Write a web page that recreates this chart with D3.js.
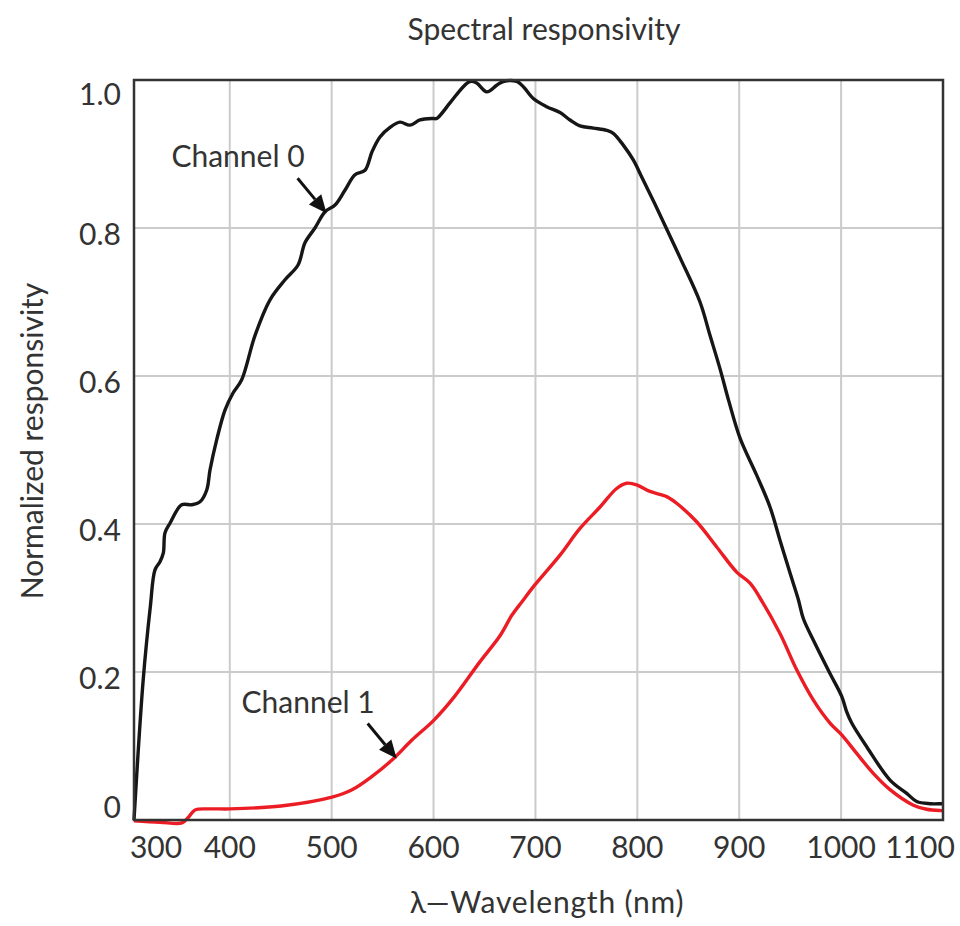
<!DOCTYPE html>
<html>
<head>
<meta charset="utf-8">
<script src="https://cdn.jsdelivr.net/npm/d3@7"></script>
<style>
  html, body { margin: 0; padding: 0; background: #fff; }
  svg { display: block; }
  text { font-family: Lato, "Open Sans", sans-serif; fill: #333; }
</style>
</head>
<body>
<svg id="chart" width="960" height="926"></svg>
<script>
// ---- Data ----
const title = "Spectral responsivity";
const xLabel = "λ—Wavelength (nm)";
const yLabel = "Normalized responsivity";

const xTicks = [300, 400, 500, 600, 700, 800, 900, 1000, 1100];
const xGrid = [400, 500, 600, 700, 800, 900, 1000];
const yTicks = [0, 0.2, 0.4, 0.6, 0.8, 1.0];
const yTickLabels = ["0", "0.2", "0.4", "0.6", "0.8", "1.0"];

// Channel 0 (black): [wavelength nm, responsivity]
const channel0 = [
  [306, 0], [315, 0.189], [322, 0.288], [326.6, 0.338], [331.5, 0.349], [334.8, 0.361],
  [336.4, 0.388], [341.3, 0.401], [352.8, 0.426], [362.6, 0.426], [370.8, 0.430],
  [377.4, 0.446], [380.6, 0.473], [387.2, 0.514], [395.3, 0.554], [403.2, 0.577],
  [411.7, 0.595], [424.8, 0.655], [439.5, 0.703], [454.2, 0.730], [467, 0.750],
  [473.8, 0.780], [483.6, 0.800], [493.5, 0.822], [503.3, 0.831], [513, 0.851],
  [522.9, 0.872], [532.7, 0.878], [539.6, 0.903], [547.4, 0.923], [557.3, 0.936],
  [567, 0.943], [576.9, 0.939], [586.7, 0.946], [599.8, 0.948], [603.1, 0.948],
  [616.1, 0.969], [629.2, 0.991], [635.8, 0.998], [642.3, 0.996], [652.2, 0.984],
  [662, 0.993], [668.5, 0.998], [681.6, 0.998], [688.1, 0.991], [697.9, 0.975],
  [711, 0.964], [724.1, 0.956], [733.9, 0.946], [743.7, 0.938], [756.8, 0.935],
  [769.9, 0.932], [776.4, 0.928], [786.2, 0.912], [796, 0.892], [804.3, 0.869],
  [822.2, 0.818], [841.9, 0.760], [861.5, 0.700], [871.3, 0.655], [881.1, 0.610],
  [890, 0.565], [900.8, 0.516], [917.1, 0.466], [930.2, 0.423], [940, 0.378], [949.8, 0.334],
  [958, 0.298], [963, 0.272], [972.8, 0.243], [989.1, 0.198], [1000.6, 0.167],
  [1005.5, 0.146], [1010.4, 0.131], [1025.1, 0.099], [1048, 0.054], [1064.4, 0.036],
  [1074.2, 0.025], [1087.2, 0.022], [1098.7, 0.022], [1100, 0.022]
];

// Channel 1 (red): [wavelength nm, responsivity]
const channel1 = [
  [306, -0.001], [331.5, -0.003], [353.1, -0.004], [359, 0.003], [365.9, 0.0135],
  [380.6, 0.015], [400.2, 0.015], [450.3, 0.019], [500.3, 0.031], [520, 0.041],
  [539.6, 0.059], [559.2, 0.081], [578.8, 0.108], [600.4, 0.135], [620.1, 0.166],
  [645.6, 0.214], [665.2, 0.249], [677, 0.277], [686.8, 0.295], [699.6, 0.318],
  [724.1, 0.358], [743.7, 0.394], [763.4, 0.423], [779.7, 0.448], [789.5, 0.455],
  [799.3, 0.453], [812.4, 0.444], [828.8, 0.437], [838.6, 0.428], [858.2, 0.403],
  [877.9, 0.369], [897.5, 0.335], [910.6, 0.320], [920.4, 0.300], [940, 0.252],
  [956.4, 0.203], [972.8, 0.162], [989.1, 0.131], [1000.6, 0.115], [1015.3, 0.090],
  [1031.6, 0.063], [1048, 0.041], [1070.9, 0.020], [1084, 0.0145], [1098.7, 0.0126],
  [1100, 0.0125]
];

// Annotations: label text and data point the arrow points at
const annotations = [
  { text: "Channel 0", nm: 495, value: 0.82 },
  { text: "Channel 1", nm: 563.8, value: 0.083 }
];

// ---- Layout ----
const svg = d3.select("#chart");
const mLeft = 134, mRight = 943, mTop = 80, mBottom = 820;

const x = d3.scaleLinear().domain([306, 1100]).range([mLeft, mRight]);
const y = d3.scaleLinear().domain([0, 1]).range([mBottom, mTop]);

// Grid
const grid = svg.append("g").attr("stroke", "#cbcbcb").attr("stroke-width", 2);
grid.selectAll("line.v").data(xGrid).join("line").attr("class", "v")
  .attr("x1", d => x(d)).attr("x2", d => x(d))
  .attr("y1", mTop).attr("y2", mBottom);
grid.selectAll("line.h").data(yTicks.filter(d => d > 0 && d < 1)).join("line").attr("class", "h")
  .attr("x1", mLeft).attr("x2", mRight)
  .attr("y1", d => y(d)).attr("y2", d => y(d));

// Curves
const line = d3.line().x(d => x(d[0])).y(d => y(d[1])).curve(d3.curveCatmullRom.alpha(0.5));
svg.append("path").datum(channel1).attr("d", line)
  .attr("fill", "none").attr("stroke", "#ec1c24").attr("stroke-width", 3.4)
  .attr("stroke-linejoin", "round");
svg.append("path").datum(channel0).attr("d", line)
  .attr("fill", "none").attr("stroke", "#161616").attr("stroke-width", 3.4)
  .attr("stroke-linejoin", "round");

// Frame
svg.append("rect").attr("x", mLeft).attr("y", mTop)
  .attr("width", mRight - mLeft).attr("height", mBottom - mTop)
  .attr("fill", "none").attr("stroke", "#333").attr("stroke-width", 2.5);

// X tick labels
svg.append("g").selectAll("text").data(xTicks).join("text")
  .attr("x", d => Math.max(156, Math.min(920, x(d))))
  .attr("y", 858)
  .attr("text-anchor", "middle")
  .attr("font-size", 30)
  .text(d => d);

// Y tick labels
svg.append("g").selectAll("text").data(yTicks).join("text")
  .attr("x", 121)
  .attr("y", d => Math.max(105, Math.min(818, y(d) + 17)))
  .attr("text-anchor", "end")
  .attr("font-size", 30)
  .text((d, i) => yTickLabels[i]);

// Title
svg.append("text").attr("x", 544).attr("y", 40)
  .attr("text-anchor", "middle").attr("font-size", 30).text(title);

// X label
svg.append("text").attr("x", 547).attr("y", 913)
  .attr("text-anchor", "middle").attr("font-size", 30)
  .attr("letter-spacing", 0.8).text(xLabel);

// Y label
svg.append("text")
  .attr("transform", "translate(43,441) rotate(-90)")
  .attr("text-anchor", "middle").attr("font-size", 30).text(yLabel);

// Annotations with arrows
annotations.forEach(a => {
  const tx = x(a.nm), ty = y(a.value);
  const sx = tx - 29, sy = ty - 35;
  const ang = Math.atan2(ty - sy, tx - sx);
  const headLen = 18, headW = 8;
  const bx = tx - headLen * Math.cos(ang), by = ty - headLen * Math.sin(ang);
  const g = svg.append("g");
  g.append("line").attr("x1", sx).attr("y1", sy).attr("x2", bx).attr("y2", by)
    .attr("stroke", "#111").attr("stroke-width", 3);
  const px = -Math.sin(ang), py = Math.cos(ang);
  g.append("path")
    .attr("d", `M${tx},${ty} L${bx + px * headW},${by + py * headW} L${bx - px * headW},${by - py * headW} Z`)
    .attr("fill", "#111");
  g.append("text")
    .attr("x", sx + 7).attr("y", sy - 11)
    .attr("text-anchor", "end").attr("font-size", 30)
    .text(a.text);
});
</script>
</body>
</html>
